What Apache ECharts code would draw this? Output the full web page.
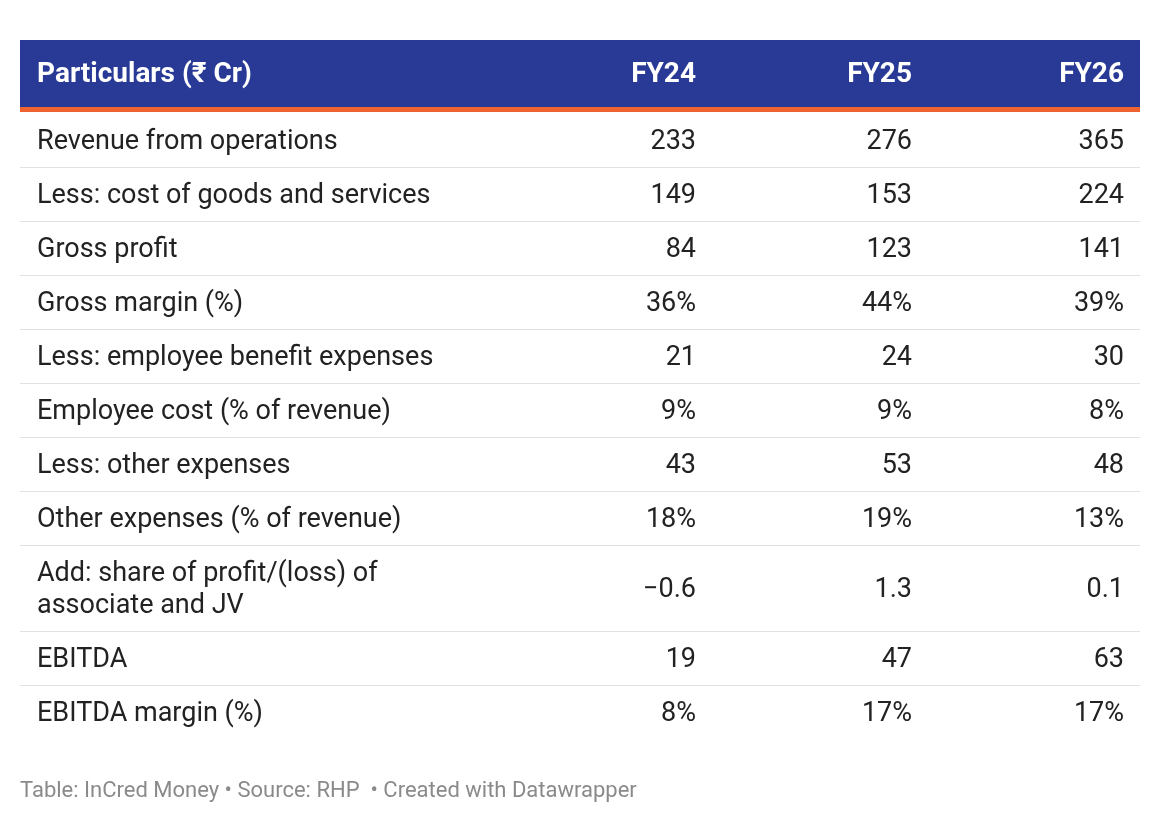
<!DOCTYPE html>
<html><head><meta charset="utf-8">
<script src="https://cdn.jsdelivr.net/npm/echarts@6/dist/echarts.min.js"></script>
<style>html,body{margin:0;background:#fff}#c{width:1160px;height:824px}</style>
</head><body><div id="c"></div>
<script>
var headers = ['Particulars (₹ Cr)', 'FY24', 'FY25', 'FY26'];
var rowLabels = ['Revenue from operations', 'Less: cost of goods and services', 'Gross profit', 'Gross margin (%)',
  'Less: employee benefit expenses', 'Employee cost (% of revenue)', 'Less: other expenses',
  'Other expenses (% of revenue)', 'Add: share of profit/(loss) of\nassociate and JV', 'EBITDA', 'EBITDA margin (%)'];
var fy24 = ['233', '149', '84', '36%', '21', '9%', '43', '18%', '\u22120.6', '19', '8%'];
var fy25 = ['276', '153', '123', '44%', '24', '9%', '53', '19%', '1.3', '47', '17%'];
var fy26 = ['365', '224', '141', '39%', '30', '8%', '48', '13%', '0.1', '63', '17%'];
var footer = 'Table: InCred Money \u2022 Source: RHP  \u2022 Created with Datawrapper';

var font = 'Roboto, "Noto Sans", sans-serif';
var colRight = [696, 912, 1124];
var els = [];
els.push({type: 'rect', shape: {x: 20, y: 40, width: 1120, height: 68}, style: {fill: '#283a96'}});
els.push({type: 'rect', shape: {x: 20, y: 107, width: 1120, height: 5}, style: {fill: '#ee6331'}});
els.push({type: 'text', x: 37, y: 75, style: {text: headers[0], fill: '#fff', font: 'bold 28px ' + font, textVerticalAlign: 'middle'}});
for (var h = 1; h < 4; h++) {
  els.push({type: 'text', x: colRight[h - 1], y: 75, style: {text: headers[h], fill: '#fff', font: 'bold 28px ' + font, textAlign: 'right', textVerticalAlign: 'middle'}});
}
var y = 113;
var cols = [fy24, fy25, fy26];
for (var i = 0; i < rowLabels.length; i++) {
  var hgt = rowLabels[i].indexOf('\n') >= 0 ? 86 : 54;
  var cy = y + hgt / 2 + 2;
  els.push({type: 'text', x: 37, y: cy, style: {text: rowLabels[i], fill: '#222', font: '27px ' + font, lineHeight: 32, textVerticalAlign: 'middle'}});
  for (var c = 0; c < 3; c++) {
    els.push({type: 'text', x: colRight[c], y: cy, style: {text: cols[c][i], fill: '#222', font: '27px ' + font, textAlign: 'right', textVerticalAlign: 'middle'}});
  }
  y += hgt;
  if (i < rowLabels.length - 1) {
    els.push({type: 'rect', shape: {x: 20, y: y, width: 1120, height: 1}, style: {fill: '#e2e2e2'}});
  }
}
els.push({type: 'text', x: 20, y: 791, style: {text: footer, fill: '#8a8a8a', font: '22px ' + font, textVerticalAlign: 'middle'}});

var chart = echarts.init(document.getElementById('c'));
chart.setOption({graphic: {elements: els}});
</script></body></html>
